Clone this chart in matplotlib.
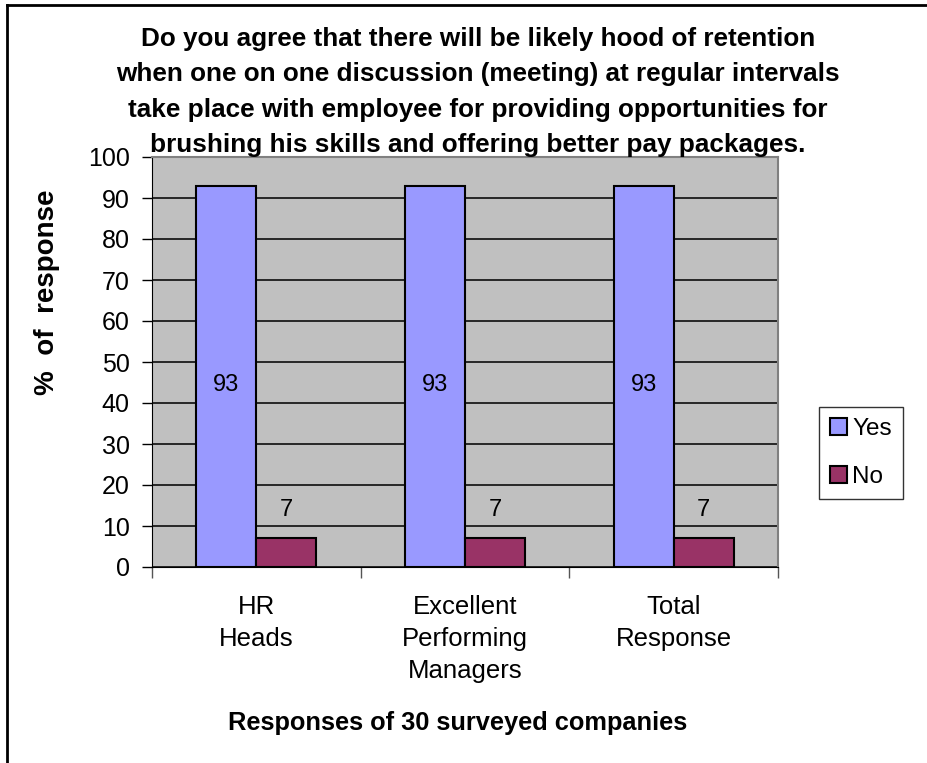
import numpy as np
import matplotlib.pyplot as plt
from matplotlib.lines import Line2D

plt.rcParams['font.family'] = ['Liberation Sans', 'DejaVu Sans']

categories = ['HR\nHeads', 'Excellent\nPerforming\nManagers', 'Total\nResponse']
yes_vals = [93, 93, 93]
no_vals = [7, 7, 7]
series_names = ['Yes', 'No']
title = ('Do you agree that there will be likely hood of retention\n'
         'when one on one discussion (meeting) at regular intervals\n'
         'take place with employee for providing opportunities for\n'
         'brushing his skills and offering better pay packages.')

fig = plt.figure(figsize=(9.28, 7.63), dpi=100)
ax = fig.add_axes([152/928, 1 - 567/763, (778-152)/928, (567-157)/763])
ax.set_facecolor('#c0c0c0')

x = np.arange(len(categories))
w = 0.287
b1 = ax.bar(x - w/2, yes_vals, w, color='#9999ff', edgecolor='black', linewidth=1.5, zorder=3, label=series_names[0])
b2 = ax.bar(x + w/2, no_vals, w, color='#993366', edgecolor='black', linewidth=1.5, zorder=3, label=series_names[1])

for xi, v in zip(x - w/2, yes_vals):
    ax.text(xi, v/2 - 2, str(v), ha='center', va='center', fontsize=17, zorder=4)
for xi, v in zip(x + w/2, no_vals):
    ax.text(xi, v + 7, str(v), ha='center', va='center', fontsize=17, zorder=4)

ax.set_xlim(-0.5, 2.5)
ax.set_ylim(0, 100)
ax.set_yticks(range(0, 101, 10))
ax.yaxis.grid(True, color='#1a1a1a', linewidth=1.3, zorder=1)
ax.tick_params(axis='y', labelsize=18, length=7, width=1, pad=9)
ax.set_xticks([-0.5, 0.5, 1.5, 2.5], minor=False)
ax.set_xticklabels([])
ax.set_xticks(x, minor=True)
ax.set_xticklabels(categories, minor=True, fontsize=18.5, linespacing=1.43)
ax.tick_params(axis='x', which='major', length=8, width=1, color='#555555')
ax.tick_params(axis='x', which='minor', length=0, pad=20)
for s in ['top', 'right']:
    ax.spines[s].set_color('#808080')
    ax.spines[s].set_linewidth(1.5)
ax.spines['left'].set_color('black')
ax.spines['bottom'].set_color('black')

fig.text(47/928, 1 - 292/763, '%  of  response', rotation=90, ha='center', va='center',
         fontsize=20, fontweight='bold')
fig.text(458/928, 1 - 723/763, 'Responses of 30 surveyed companies', ha='center', va='center',
         fontsize=18.3, fontweight='bold')
fig.text(478/928, 1 - 92/763, title, ha='center', va='center', fontsize=18.8,
         fontweight='bold', linespacing=1.6)

leg = fig.legend(handles=[b1, b2], labels=series_names, loc='center',
                 bbox_to_anchor=(861/928, 1 - 453/763), frameon=True, fancybox=False,
                 fontsize=17.5, handlelength=0.7, handleheight=0.7, handletextpad=0.2,
                 borderpad=0.45, labelspacing=1.1, borderaxespad=0)
leg.get_frame().set_edgecolor('black')
leg.get_frame().set_linewidth(1)

# outer frame lines on the left and top edges
fig.add_artist(Line2D([7/928, 7/928], [0, 1 - 5/763], color='black', linewidth=2, transform=fig.transFigure))
fig.add_artist(Line2D([7/928, 1], [1 - 5/763, 1 - 5/763], color='black', linewidth=2, transform=fig.transFigure))

fig.savefig('out.png', dpi=100)
